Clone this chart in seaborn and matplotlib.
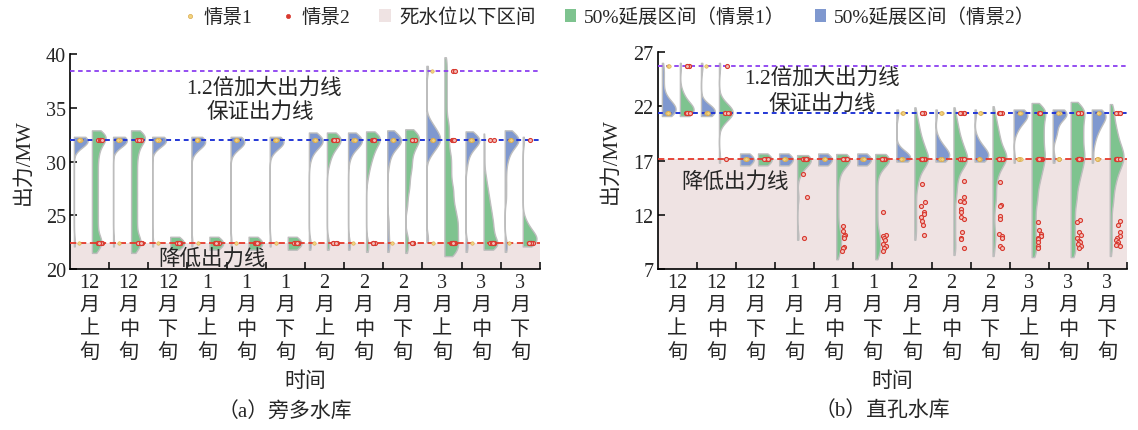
import numpy as np
import pandas as pd
import matplotlib
matplotlib.use("Agg")
import matplotlib.pyplot as plt
from matplotlib.lines import Line2D
from matplotlib.patches import Patch
import seaborn as sns

# ---------------------------------------------------------------- data
months = ["12", "12", "12", "1", "1", "1", "2", "2", "2", "3", "3", "3"]
parts = ["上", "中", "下", "上", "中", "下", "上", "中", "下", "上", "中", "下"]
tick_labels = [f"{m}\n月\n{p}\n旬" for m, p in zip(months, parts)]

# 旁多水库 reference output levels (MW)
pd_enlarged, pd_guarantee, pd_reduced = 38.4, 32.0, 22.4
# 直孔水库 reference output levels (MW)
zk_enlarged, zk_guarantee, zk_reduced = 25.7, 21.4, 17.1

# 50% extension-interval samples, (output MW, count) per dekad
pd_ext_s1 = [
    [(32.6, 7), (32.0, 8), (31.0, 5), (30.0, 4), (29.0, 4), (28.0, 4), (27.0, 4),
     (26.0, 4), (25.0, 4), (24.0, 4), (23.0, 4), (22.4, 5), (21.8, 3)],
    [(32.6, 7), (32.0, 8), (31.0, 5), (30.0, 4), (29.0, 4), (28.0, 4), (27.0, 4),
     (26.0, 4), (25.0, 4), (24.0, 4), (23.0, 4), (22.4, 5), (21.8, 3)],
    [(22.1, 1), (22.4, 1), (22.7, 1)],
    [(22.1, 1), (22.4, 1), (22.7, 1)],
    [(22.1, 1), (22.4, 1), (22.7, 1)],
    [(22.1, 1), (22.4, 1), (22.7, 1)],
    [(32.4, 5), (32.0, 6), (31.3, 4), (30.5, 2), (29.7, 1), (22.4, 1), (22.1, 1)],
    [(32.5, 5), (32.0, 6), (31.2, 4), (30.4, 3), (29.5, 2), (28.5, 1), (22.4, 1), (21.9, 1)],
    [(32.7, 5), (32.0, 6), (31.2, 4), (30.3, 3), (29.4, 3), (28.5, 2), (27.6, 2),
     (26.7, 1), (25.8, 1), (23.0, 1), (22.4, 1), (21.8, 1)],
    [(39.4, 1), (38.4, 1), (37.4, 1), (36.4, 1), (35.4, 1), (34.4, 1), (33.4, 2),
     (32.4, 2), (31.4, 2), (30.4, 3), (29.4, 3), (28.4, 3), (27.4, 4), (26.4, 4),
     (25.4, 5), (24.4, 6), (23.4, 6), (22.4, 6), (21.5, 5)],
    [(32.3, 1), (31.3, 1), (30.3, 1), (29.3, 1), (28.4, 3), (27.4, 5), (26.4, 7),
     (25.4, 9), (24.4, 11), (23.4, 12), (22.4, 12), (22.1, 10)],
    [(32.0, 1), (24.6, 1), (24.0, 2), (23.4, 4), (22.8, 5), (22.4, 5)],
]
pd_ext_s2 = [
    [(32.0, 12), (31.7, 4), (22.4, 1)],
    [(32.0, 12), (31.8, 3), (22.4, 1)],
    [(32.0, 12), (31.8, 3), (22.4, 1)],
    [(32.0, 10), (31.6, 4), (31.2, 2), (22.4, 1)],
    [(32.0, 10), (31.6, 4), (31.2, 2), (22.4, 1)],
    [(32.0, 10), (31.6, 4), (31.2, 2), (22.4, 1)],
    [(32.4, 4), (32.0, 8), (31.5, 4), (31.0, 2), (30.2, 1), (22.4, 1), (22.1, 1)],
    [(32.4, 4), (32.0, 8), (31.5, 4), (31.0, 2), (30.2, 1), (22.4, 1), (22.1, 1)],
    [(32.6, 4), (32.0, 8), (31.4, 4), (30.6, 2), (29.6, 1), (24.5, 1), (23.4, 1),
     (22.4, 1), (21.9, 1)],
    [(38.6, 1), (33.6, 2), (32.8, 4), (32.0, 6), (31.2, 3), (30.6, 1), (22.8, 1)],
    [(32.5, 4), (32.0, 8), (31.4, 4), (30.6, 2), (29.6, 1), (22.4, 1), (21.9, 1)],
    [(32.6, 4), (32.0, 8), (31.2, 4), (30.2, 2), (29.0, 1), (27.8, 1), (26.6, 1),
     (22.4, 1), (21.9, 1)],
]
zk_ext_s1 = [
    [(25.7, 1), (23.4, 1), (22.8, 2), (22.2, 4), (21.6, 7), (21.4, 4)],
    [(25.7, 1), (22.4, 2), (21.8, 4), (21.4, 6), (20.9, 3), (20.4, 1), (17.1, 1)],
    [(16.85, 1), (17.1, 1), (17.35, 1)],
    [(17.2, 8), (16.7, 3), (16.1, 1), (15.6, 1), (13.6, 1), (10.0, 1)],
    [(17.3, 8), (16.8, 4), (16.2, 2), (15.6, 1), (15.0, 1), (14.2, 1), (13.4, 1),
     (12.6, 1), (11.8, 1), (11.0, 1), (10.3, 2), (9.6, 2), (8.9, 2), (8.2, 1)],
    [(17.3, 8), (16.8, 4), (16.2, 2), (15.6, 1), (14.8, 1), (14.0, 1), (13.2, 1),
     (12.4, 1), (11.6, 1), (10.8, 1), (10.1, 2), (9.4, 2), (8.7, 2), (8.2, 1)],
    [(21.6, 1), (20.8, 2), (20.0, 3), (19.2, 4), (18.4, 6), (17.6, 7), (17.0, 7),
     (16.4, 5), (15.6, 3), (14.8, 2), (14.0, 1), (13.2, 1), (12.4, 1), (11.6, 1),
     (10.8, 1), (10.0, 1)],
    [(21.6, 1), (20.8, 2), (20.0, 3), (19.2, 4), (18.4, 6), (17.6, 7), (17.0, 7),
     (16.4, 5), (15.6, 3), (14.8, 2), (14.0, 2), (13.2, 1), (12.4, 1), (11.6, 1),
     (10.8, 1), (10.0, 1), (9.2, 1), (8.6, 1)],
    [(21.7, 1), (20.9, 2), (20.1, 3), (19.3, 4), (18.5, 5), (17.7, 7), (17.1, 7),
     (16.4, 5), (15.6, 3), (14.8, 2), (14.0, 2), (13.2, 2), (12.4, 1), (11.6, 1),
     (10.8, 1), (10.0, 2), (9.2, 1), (8.5, 1)],
    [(22.0, 5), (21.4, 7), (20.6, 6), (19.8, 6), (19.0, 6), (18.2, 6), (17.4, 7),
     (16.6, 6), (15.8, 5), (15.0, 4), (14.2, 3), (13.4, 3), (12.6, 2), (11.8, 2),
     (11.0, 2), (10.2, 2), (9.4, 2), (8.6, 2), (8.4, 1)],
    [(22.1, 5), (21.4, 7), (20.6, 6), (19.8, 6), (19.0, 6), (18.2, 6), (17.4, 7),
     (16.6, 6), (15.8, 5), (15.0, 4), (14.2, 3), (13.4, 3), (12.6, 2), (11.8, 2),
     (11.0, 2), (10.2, 2), (9.4, 2), (8.6, 2), (8.4, 1)],
    [(21.9, 2), (21.2, 2), (20.4, 3), (19.6, 4), (18.8, 5), (18.0, 7), (17.2, 8),
     (16.4, 6), (15.6, 4), (14.8, 3), (14.0, 2), (13.2, 2), (12.4, 1), (11.6, 1),
     (10.8, 1), (10.0, 1), (9.2, 1), (8.5, 1)],
]
zk_ext_s2 = [
    [(25.7, 1), (25.0, 1), (24.2, 1), (23.4, 1), (22.6, 3), (22.0, 6), (21.4, 8)],
    [(25.7, 1), (21.8, 4), (21.4, 6)],
    [(16.85, 1), (17.1, 1), (17.35, 1)],
    [(16.85, 1), (17.1, 1), (17.35, 1)],
    [(16.85, 1), (17.1, 1), (17.35, 1)],
    [(16.85, 1), (17.1, 1), (17.35, 1)],
    [(21.4, 1), (17.6, 2), (17.2, 6)],
    [(21.4, 1), (19.0, 1), (18.4, 2), (17.8, 4), (17.2, 6)],
    [(21.4, 1), (19.0, 1), (18.4, 2), (17.8, 4), (17.2, 6)],
    [(21.4, 8), (20.8, 4), (20.2, 2), (19.6, 1), (17.1, 1)],
    [(21.4, 6), (21.0, 1), (20.4, 1), (19.8, 1), (19.2, 1), (17.1, 1)],
    [(21.4, 7), (20.8, 4), (20.2, 3), (19.6, 2), (19.0, 1), (18.4, 1), (17.1, 1)],
]

# scenario outputs, (output MW, count) per dekad
pd_pts_s1 = [
    [(32.0, 8), (22.4, 1)], [(32.0, 8), (22.4, 1)], [(32.0, 8), (22.4, 1)],
    [(32.0, 8), (22.4, 1)], [(32.0, 8), (22.4, 1)], [(32.0, 8), (22.4, 1)],
    [(32.0, 8), (22.4, 1)], [(32.0, 8), (22.4, 1)], [(32.0, 8), (22.4, 1)],
    [(38.4, 1), (32.0, 8), (22.4, 1)], [(32.0, 8), (22.4, 1)], [(32.0, 8), (22.4, 1)],
]
pd_pts_s2 = [
    [(32.0, 6), (22.4, 6)], [(32.0, 6), (22.4, 6)],
    [(22.4, 8)], [(22.4, 8)], [(22.4, 8)], [(22.4, 8)],
    [(32.0, 6), (22.4, 4)], [(32.0, 6), (22.4, 4)], [(32.0, 6), (22.4, 4)],
    [(38.4, 2), (32.0, 4), (22.4, 8)], [(32.0, 2), (22.4, 8)], [(32.0, 1), (22.4, 8)],
]
zk_pts_s1 = [
    [(25.7, 2), (21.4, 6)], [(25.7, 1), (21.4, 6)],
    [(17.1, 6)], [(17.1, 6)], [(17.1, 6)], [(17.1, 6)],
    [(21.4, 3), (17.1, 6)], [(21.4, 3), (17.1, 6)], [(21.4, 3), (17.1, 6)],
    [(21.4, 3), (17.1, 6)], [(21.4, 3), (17.1, 6)], [(21.4, 3), (17.1, 6)],
]
zk_pts_s2 = [
    [(25.7, 4), (21.4, 6)],
    [(25.7, 1), (21.4, 6), (17.1, 1)],
    [(17.1, 8)],
    [(17.1, 8), (15.8, 1), (13.6, 1), (9.9, 1)],
    [(17.1, 8), (11.0, 1), (10.5, 1), (10.1, 1), (10.0, 1), (9.9, 1), (9.0, 1),
     (8.9, 1), (8.7, 1)],
    [(17.1, 8), (12.3, 1), (10.1, 1), (10.0, 1), (9.9, 1), (9.7, 1), (9.3, 1),
     (9.1, 1), (8.9, 1), (8.7, 1)],
    [(21.4, 4), (17.1, 8), (14.8, 1), (13.2, 1), (12.8, 1), (12.3, 1), (12.1, 1),
     (11.8, 1), (11.4, 1), (11.1, 1), (10.1, 1)],
    [(21.4, 4), (17.1, 8), (15.1, 1), (13.6, 1), (13.3, 1), (13.2, 1), (12.5, 1),
     (12.3, 1), (11.8, 1), (11.6, 1), (10.4, 1), (9.9, 1), (9.8, 1), (8.9, 1)],
    [(21.4, 4), (17.1, 8), (15.0, 1), (12.9, 1), (12.8, 1), (11.9, 1), (11.6, 1),
     (10.2, 1), (10.0, 1), (9.9, 1), (9.1, 1), (8.9, 1)],
    [(21.4, 4), (17.1, 8), (11.3, 1), (10.6, 1), (10.2, 1), (10.0, 2), (9.9, 1),
     (9.8, 1), (9.5, 1), (9.1, 1), (8.9, 1)],
    [(21.4, 4), (17.1, 8), (11.5, 1), (11.3, 1), (10.4, 1), (10.1, 1), (9.9, 1),
     (9.6, 1), (9.5, 1), (9.3, 1), (9.1, 1), (8.9, 1)],
    [(21.4, 4), (17.1, 8), (11.4, 1), (11.1, 1), (10.4, 1), (10.0, 1), (9.9, 1),
     (9.7, 1), (9.5, 1), (9.3, 1), (9.2, 1), (9.1, 1)],
]

# ---------------------------------------------------------------- style
BLUE = "#7f98cf"
GREEN = "#7ec38f"
EDGE = "#bdbdbd"
SHADE = "#efe3e3"
TAN_FACE, TAN_EDGE = "#f2d37e", "#d9aa4f"
RED_FACE, RED_EDGE = "#f3c1bb", "#d8392f"
C_ENL, C_GUA, C_RED = "#8b3ff0", "#2337d6", "#e5392c"

KDE_BW = 0.6          # kernel bandwidth in MW
VIOLIN_W = 0.7        # full violin width in category units
SHIFT_S2, SHIFT_S1 = -0.40, 0.06
PT_S1, PT_S2 = -0.25, 0.27

sns.set_theme(style="ticks")
plt.rcParams["font.family"] = ["Liberation Serif", "Noto Sans CJK SC"]
plt.rcParams["axes.unicode_minus"] = False
plt.rcParams["axes.edgecolor"] = "black"
np.random.seed(7)


def expand(pairs):
    vals = [v for v, _ in pairs]
    counts = [c for _, c in pairs]
    return np.repeat(vals, counts)


def frame(series, shift):
    pos, val = [], []
    for i, pairs in enumerate(series):
        v = expand(pairs)
        pos.extend([i + shift] * len(v))
        val.extend(v)
    return pd.DataFrame({"pos": pos, "value": val})


def fixed_bw(kde):
    return KDE_BW / np.std(kde.dataset, ddof=1)


def half_violins(ax, series, shift, color):
    df = frame(series, shift)
    n0 = len(ax.collections)
    sns.violinplot(data=df, x="pos", y="value", native_scale=True, orient="x",
                   width=VIOLIN_W, density_norm="width", cut=0.5,
                   bw_method=fixed_bw, gridsize=400, inner=None, color=color,
                   saturation=1, linecolor=EDGE, linewidth=1.0, ax=ax)
    # keep only the right-hand half of every violin
    for coll in ax.collections[n0:]:
        verts = []
        for path in coll.get_paths():
            v = np.array(path.vertices, dtype=float)
            mid = 0.5 * (v[:, 0].min() + v[:, 0].max())
            v[:, 0] = np.maximum(v[:, 0], mid)
            verts.append(v)
        coll.set_verts(verts)
        coll.set_zorder(2)


def points(ax, series, shift, face, edge, size, jitter, lw):
    df = frame(series, shift)
    sns.stripplot(data=df, x="pos", y="value", native_scale=True, orient="x",
                  jitter=jitter, size=size, color=face, edgecolor=edge,
                  linewidth=lw, zorder=5, ax=ax)


def draw_panel(ax, ext_s1, ext_s2, pts_s1, pts_s2, enlarged, guarantee, reduced,
               ylim, yticks):
    ax.axhspan(ylim[0], reduced, color=SHADE, lw=0, zorder=0)
    half_violins(ax, ext_s2, SHIFT_S2, BLUE)
    half_violins(ax, ext_s1, SHIFT_S1, GREEN)
    ax.axhline(enlarged, color=C_ENL, ls=(0, (2.5, 2)), lw=1.3, zorder=3)
    ax.axhline(guarantee, color=C_GUA, ls=(0, (2.5, 2)), lw=1.4, zorder=3)
    ax.axhline(reduced, color=C_RED, ls=(0, (3.5, 2)), lw=1.3, zorder=3)
    points(ax, pts_s1, PT_S1, TAN_FACE, TAN_EDGE, 2.5, 0.03, 0.4)
    points(ax, pts_s2, PT_S2, RED_FACE, RED_EDGE, 2.9, 0.06, 0.8)

    ax.set_xlim(-0.5, 11.5)
    ax.set_ylim(*ylim)
    ax.set_yticks(yticks)
    ax.set_xticks(range(12))
    ax.set_xticklabels(tick_labels, fontsize=14.5, linespacing=1.3)
    ax.set_xticks(np.arange(0.5, 12, 1), minor=True)
    ax.tick_params(axis="x", which="major", length=0, pad=3)
    ax.tick_params(axis="x", which="minor", direction="in", length=5, width=1.1,
                   color="black")
    ax.tick_params(axis="y", direction="in", length=5, width=1.1, labelsize=14.5,
                   color="black", pad=3)
    ax.set_xlabel("时间", fontsize=15, labelpad=7)
    ax.set_ylabel("出力/MW", fontsize=15, labelpad=9)
    for side in ("top", "right"):
        ax.spines[side].set_visible(False)
    for side in ("left", "bottom"):
        ax.spines[side].set_linewidth(1.2)
        ax.spines[side].set_color("black")


fig = plt.figure(figsize=(11.38, 4.31), dpi=100)
ax_a = fig.add_axes([0.0615, 0.3735, 0.413, 0.4988])
ax_b = fig.add_axes([0.5782, 0.3735, 0.4121, 0.5035])

draw_panel(ax_a, pd_ext_s1, pd_ext_s2, pd_pts_s1, pd_pts_s2,
           pd_enlarged, pd_guarantee, pd_reduced, (20, 40), [20, 25, 30, 35, 40])
draw_panel(ax_b, zk_ext_s1, zk_ext_s2, zk_pts_s1, zk_pts_s2,
           zk_enlarged, zk_guarantee, zk_reduced, (7, 27), [7, 12, 17, 22, 27])

ax_a.text(4.45, 36.9, "1.2倍加大出力线", ha="center", va="center", fontsize=15.5)
ax_a.text(4.37, 34.7, "保证出力线", ha="center", va="center", fontsize=15.5)
ax_a.text(3.12, 20.95, "降低出力线", ha="center", va="center", fontsize=15.5, zorder=6)
ax_b.text(3.7, 24.7, "1.2倍加大出力线", ha="center", va="center", fontsize=15.5)
ax_b.text(3.7, 22.3, "保证出力线", ha="center", va="center", fontsize=15.5)
ax_b.text(1.47, 15.1, "降低出力线", ha="center", va="center", fontsize=15.5)

fig.text(0.25, 0.044, "（a）旁多水库", ha="center", va="center", fontsize=15)
fig.text(0.775, 0.044, "（b）直孔水库", ha="center", va="center", fontsize=15)

handles = [
    Line2D([], [], ls="", marker="o", markersize=3, markerfacecolor=TAN_FACE,
           markeredgecolor=TAN_EDGE, markeredgewidth=0.5),
    Line2D([], [], ls="", marker="o", markersize=3, markerfacecolor=RED_EDGE,
           markeredgecolor=RED_EDGE, markeredgewidth=0.5),
    Patch(facecolor=SHADE, edgecolor="none"),
    Patch(facecolor=GREEN, edgecolor="none"),
    Patch(facecolor=BLUE, edgecolor="none"),
]
labels = ["情景1", "情景2", "死水位以下区间", "50%延展区间（情景1）", "50%延展区间（情景2）"]
fig.legend(handles, labels, loc="center", bbox_to_anchor=(0.536, 0.958), ncol=5,
           frameon=False, fontsize=14, handlelength=0.6, handleheight=0.6,
           handletextpad=0.4, columnspacing=1.5)

fig.savefig("out.png", dpi=100)
